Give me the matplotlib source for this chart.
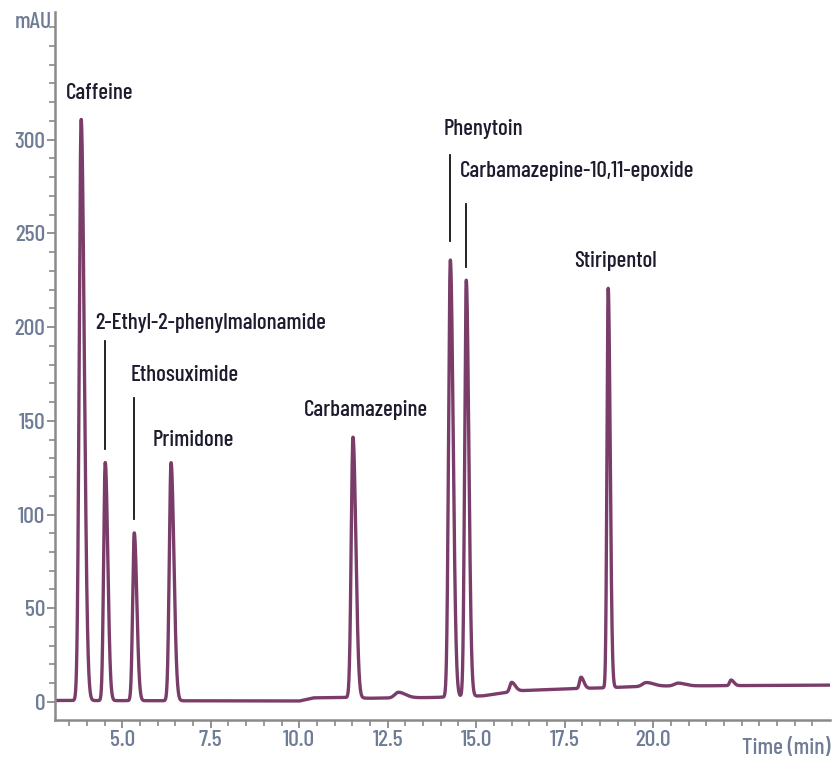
import numpy as np
import matplotlib
matplotlib.use('Agg')
import matplotlib.pyplot as plt

# ---- data ----
peak_names = ["Caffeine", "2-Ethyl-2-phenylmalonamide", "Ethosuximide", "Primidone",
              "Carbamazepine", "Phenytoin", "Carbamazepine-10,11-epoxide", "Stiripentol"]
peak_times = [3.84, 4.52, 5.34, 6.38, 11.52, 14.27, 14.72, 18.73]
peak_heights = [310, 127, 89.5, 127, 139, 233, 222, 213]
peak_widths = [0.055, 0.045, 0.045, 0.05, 0.05, 0.05, 0.045, 0.035]

minor_times = [12.8, 16.0, 17.96, 19.8, 20.7, 22.2]
minor_heights = [3.0, 5.0, 6.0, 2.0, 1.5, 3.0]
minor_widths = [0.1, 0.05, 0.04, 0.1, 0.1, 0.04]

base_times = [3.1, 10.0, 10.4, 11.3, 12.0, 13.8, 14.1, 15.2, 16.2, 17.5, 18.5, 20.0, 25.0]
base_values = [0.8, 0.5, 2.2, 2.4, 2.0, 2.4, 2.6, 3.3, 6.0, 7.0, 7.5, 8.5, 9.0]

x_ticks = [5.0, 7.5, 10.0, 12.5, 15.0, 17.5, 20.0]
y_ticks = [0, 50, 100, 150, 200, 250, 300]

# ---- build trace ----
t = np.linspace(3.1, 25.0, 8000)
signal = np.interp(t, base_times, base_values)


def add_peak(sig, t0, h, w, tail=1.6):
    left = np.exp(-0.5 * ((t - t0) / w) ** 2)
    right = np.exp(-0.5 * ((t - t0) / (w * tail)) ** 2)
    return sig + h * np.where(t < t0, left, right)


for t0, h, w in zip(peak_times, peak_heights, peak_widths):
    signal = add_peak(signal, t0, h, w)
for t0, h, w in zip(minor_times, minor_heights, minor_widths):
    signal = add_peak(signal, t0, h, w, tail=2.0)

# ---- figure ----
plt.rcParams['font.family'] = ['Barlow Condensed', 'Roboto Condensed', 'DejaVu Sans']
plt.rcParams['font.weight'] = 'medium'
tick_color = '#6f7c96'
axis_color = '#8a8a8a'
fs = 17
lfs = 16.5

fig = plt.figure(figsize=(8.38, 7.67), dpi=100)
ax = fig.add_axes([0.0656, 0.0613, 0.925, 0.923])

ax.plot(t, signal, color='#7a3d69', lw=2.4, solid_joinstyle='round')

ax.set_xlim(3.1, 25.0)
ax.set_ylim(-9.6, 368)

for s in ['top', 'right']:
    ax.spines[s].set_visible(False)
for s in ['left', 'bottom']:
    ax.spines[s].set_color(axis_color)
    ax.spines[s].set_linewidth(1.8)

ax.set_xticks(x_ticks)
ax.set_xticklabels([f"{v:.1f}" for v in x_ticks])
ax.set_xticks(np.arange(3.5, 25.0, 0.5), minor=True)
ax.set_yticks(y_ticks)
ax.set_yticks(np.arange(0, 361, 10), minor=True)
ax.tick_params(axis='both', which='major', length=6, width=1.3, color=axis_color,
               labelcolor=tick_color, labelsize=fs, pad=1)
ax.tick_params(axis='both', which='minor', length=4, width=1.2, color=axis_color)

# axis titles
ax.text(-0.004, 0.986, "mAU", transform=ax.transAxes, ha='right', va='center',
        color=tick_color, fontsize=fs)
ax.text(1.0, -0.04, "Time (min)", transform=ax.transAxes, ha='right', va='center',
        color=tick_color, fontsize=fs)

# peak labels (layout)
label_xy = [(3.42, 325), (4.24, 202), (5.23, 174.5), (5.87, 139.6),
            (10.13, 155.7), (14.08, 305.4), (14.53, 283), (17.78, 235)]
leaders = {1: (135, 192.7), 2: (97.7, 162), 5: (246, 292), 6: (232, 265.7)}
for i, name in enumerate(peak_names):
    x, y = label_xy[i]
    ax.text(x, y, name, ha='left', va='center', fontsize=lfs, color='#1c1c2e')
    if i in leaders:
        y0, y1 = leaders[i]
        ax.plot([peak_times[i], peak_times[i]], [y0, y1], color='#111111', lw=1.3)

fig.savefig('out.png', dpi=100)
